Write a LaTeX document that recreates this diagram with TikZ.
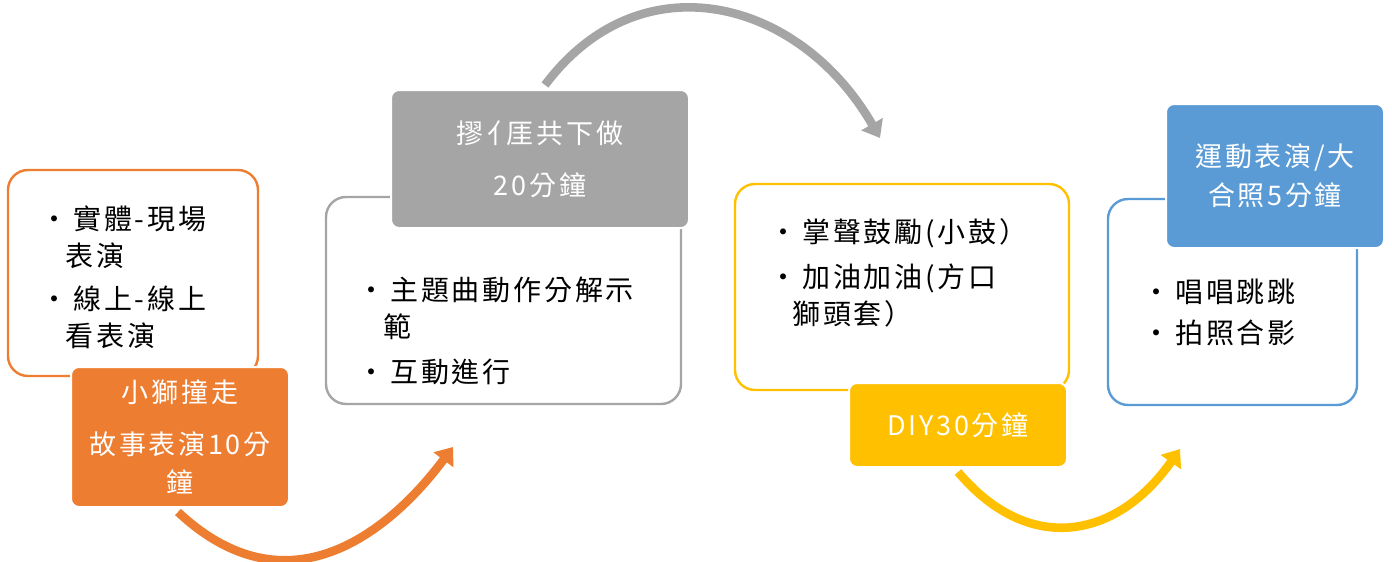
\documentclass[tikz,border=0pt]{standalone}
\usepackage{fontspec}
\setmainfont{Noto Sans CJK TC}[LetterSpace=10]
\usepackage[svgnames]{xcolor}
\usetikzlibrary{arrows.meta}
\definecolor{etapeOrange}{HTML}{ED7D31}
\definecolor{etapeGris}{HTML}{A5A5A5}
\definecolor{etapeJaune}{HTML}{FFC000}
\definecolor{etapeBleu}{HTML}{5B9BD5}
\newcommand\puce{\makebox[12.5pt][l]{\hspace*{-4pt}•}}
\newcommand\suite[1]{\hspace*{#1pt}}

\begin{document}
\begin{tikzpicture}[x=0.5pt,y=-0.5pt,
	cadre/.style={draw=#1,line width=1.2pt,rounded corners=10pt,fill=white,inner sep=0pt},
	titre/.style={fill=#1,draw=white,line width=1pt,rounded corners=4pt,text=white,
		align=center,font=\fontsize{13.5}{19}\selectfont,inner sep=0pt},
	liste/.style={anchor=north west,align=left,inner sep=0pt,font=\fontsize{14}{18.5}\selectfont},
	fleche/.style={draw=#1,line width=4.3pt,-{Triangle[length=8pt,width=12pt]}}]
	%
	% Cadre de la page
	\useasboundingbox (0,0) rectangle (1392,562);
	%
	% Etape 1
	\node[cadre=etapeOrange,minimum width=125pt,minimum height=103pt] (cadreA) at (133,273) {};
	\node[liste] (listeA) at (48,205) {\puce 實體-現場\\\suite{8.5}表演\\[3pt]\puce 線上-線上\\\suite{8.5}看表演};
	\node[titre=etapeOrange,minimum width=109pt,minimum height=70pt] (titreA) at (180,437)
		{小獅撞走\\[7pt]故事表演10分\\鐘};
	%
	% Etape 2
	\node[cadre=etapeGris,minimum width=177.5pt,minimum height=103.5pt] (cadreB) at (503.5,300.5) {};
	\node[titre=etapeGris,minimum width=149pt,minimum height=69pt] (titreB) at (540,159)
		{摎\kern2pt 亻\kern-4pt 厓共下做\\[7pt]20分鐘};
	\node[liste] (listeB) at (365,277) {\puce 主題曲動作分解示\\\suite{9}範\\[4pt]\puce 互動進行};
	%
	% Etape 3
	\node[cadre=etapeJaune,minimum width=167pt,minimum height=103pt] (cadreC) at (902,287) {};
	\node[liste] (listeC) at (777,218) {\puce 掌聲鼓勵(小鼓）\\[4pt]\puce 加油加油(方口\\\suite{7.5}獅頭套）};
	\node[titre=etapeJaune,minimum width=109pt,minimum height=42pt] (titreC) at (958,425) {DIY30分鐘};
	%
	% Etape 4
	\node[cadre=etapeBleu,minimum width=124.5pt,minimum height=103pt] (cadreD) at (1232.5,302) {};
	\node[titre=etapeBleu,minimum width=109pt,minimum height=72pt] (titreD) at (1275,176)
		{運動表演/大\\[0.5pt]合照5分鐘};
	\node[liste] (listeD) at (1150,279) {\puce 唱唱跳跳\\[2pt]\puce 拍照合影};
	%
	% Fleches
	\coordinate (debutA) at (178,512);
	\coordinate (finA) at (453,447);
	\coordinate (debutB) at (545,85);
	\coordinate (finB) at (880,138);
	\coordinate (debutC) at (958,472);
	\coordinate (finC) at (1180,449);
	\draw[fleche=etapeOrange] (debutA) .. controls (287,614) and (388,534) .. (finA);
	\draw[fleche=etapeGris] (debutB) .. controls (641,-43) and (800,-1) .. (finB);
	\draw[fleche=etapeJaune] (debutC) .. controls (1029,556) and (1117,539) .. (finC);
\end{tikzpicture}
\end{document}
